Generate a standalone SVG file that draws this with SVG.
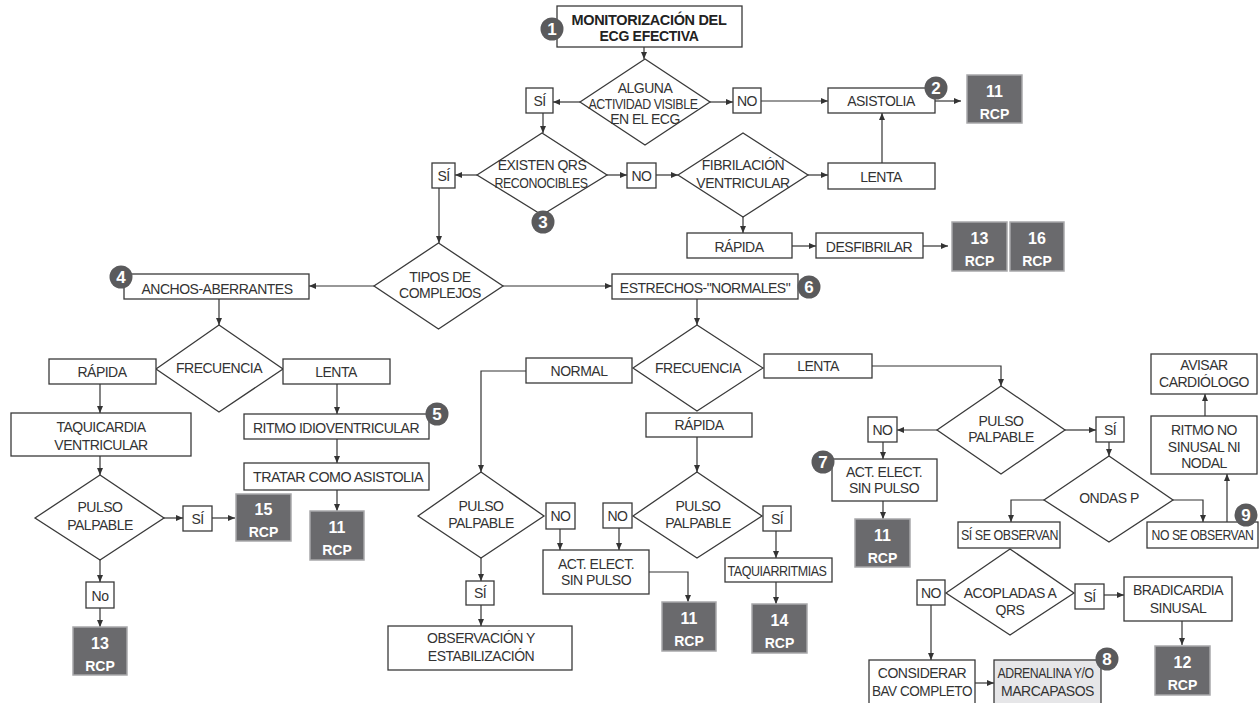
<svg xmlns="http://www.w3.org/2000/svg" width="1260" height="703" viewBox="0 0 1260 703">
<defs>
<marker id="ah" markerWidth="8" markerHeight="6" refX="7" refY="3" orient="auto" markerUnits="userSpaceOnUse"><path d="M0,0 L7,3 L0,6 z" fill="#333"/></marker>
<style>
.b{fill:#fff;stroke:#3a3a3a;stroke-width:1.3}
.g{fill:#e6e6e8;stroke:#3a3a3a;stroke-width:1.3}
.r{fill:#6a6a6d;stroke:#a8a8aa;stroke-width:1.5}
.t{font-family:"Liberation Sans",Arial,sans-serif;font-size:14px;fill:#333;text-anchor:middle;letter-spacing:-0.5px}
.tb{font-family:"Liberation Sans",Arial,sans-serif;font-size:14px;font-weight:bold;fill:#222;text-anchor:middle;letter-spacing:-0.3px}
.rn{font-family:"Liberation Sans",Arial,sans-serif;font-size:16px;font-weight:bold;fill:#fff;text-anchor:middle}
.rc{font-family:"Liberation Sans",Arial,sans-serif;font-size:14px;font-weight:bold;fill:#fff;text-anchor:middle}
.c{fill:#5a5a5c}
.cn{font-family:"Liberation Sans",Arial,sans-serif;font-size:17px;font-weight:bold;fill:#fff;text-anchor:middle}
.k{fill:none;stroke:#333;stroke-width:1.2;marker-end:url(#ah)}
</style>
</defs>
<rect width="1260" height="703" fill="#fff"/>
<g id="connectors">
<path class="k" d="M644,47 V59"/>
<path class="k" d="M580,102 H553"/>
<path class="k" d="M710,102 H733"/>
<path class="k" d="M761,101 H828"/>
<path class="k" d="M543,113 V133"/>
<path class="k" d="M477,175 H455"/>
<path class="k" d="M607,175 H627"/>
<path class="k" d="M656,175 H678"/>
<path class="k" d="M808,175 H828"/>
<path class="k" d="M882,163 V113"/>
<path class="k" d="M935,101 H961"/>
<path class="k" d="M743,217 V233"/>
<path class="k" d="M792,246 H816"/>
<path class="k" d="M923,246 H948"/>
<path class="k" d="M439,188 V243"/>
<path class="k" d="M374,286 H309"/>
<path class="k" d="M503,286 H612"/>
<path class="k" d="M219,299 V325"/>
<path class="k" d="M100,384 V413"/>
<path class="k" d="M337,384 V414"/>
<path class="k" d="M337,439 V463"/>
<path class="k" d="M337,490 V511"/>
<path class="k" d="M100,456 V475"/>
<path class="k" d="M164,518 H183"/>
<path class="k" d="M212,518 H235"/>
<path class="k" d="M100,560 V582"/>
<path class="k" d="M100,608 V627"/>
<path class="k" d="M697,299 V325"/>
<path class="k" d="M526,371 H481 V472"/>
<path class="k" d="M872,366 H1001 V386"/>
<path class="k" d="M697,437 V472"/>
<path class="k" d="M560,529 V550"/>
<path class="k" d="M619,528 V550"/>
<path class="k" d="M481,558 V581"/>
<path class="k" d="M481,605 V626"/>
<path class="k" d="M649,572 H688 V602"/>
<path class="k" d="M776,531 V558"/>
<path class="k" d="M776,582 V604"/>
<path class="k" d="M937,430 H897"/>
<path class="k" d="M883,442 V459"/>
<path class="k" d="M883,501 V519"/>
<path class="k" d="M1065,430 H1096"/>
<path class="k" d="M1109,442 V456"/>
<path class="k" d="M1044,500 H1011 V522"/>
<path class="k" d="M1173,500 H1203 V522"/>
<path class="k" d="M1227,522 V474"/>
<path class="k" d="M1205,416 V394"/>
<path class="k" d="M1104,595 H1124"/>
<path class="k" d="M1182,621 V645"/>
<path class="k" d="M931,605 V660"/>
<path class="k" d="M975,683 H994"/>
</g>
<g id="n-monit"><rect class="b" x="557" y="6" width="185" height="41"/><text class="tb" x="649" y="25" textLength="155" lengthAdjust="spacingAndGlyphs">MONITORIZACIÓN DEL</text><text class="tb" x="649" y="41" textLength="99" lengthAdjust="spacingAndGlyphs">ECG EFECTIVA</text></g>
<g id="c1"><circle class="c" cx="552" cy="29" r="11.5"/><text class="cn" x="552" y="35">1</text></g>
<g id="d-alguna"><polygon class="b" points="580,102 645,59 710,102 645,145"/><text class="t" x="645" y="93">ALGUNA</text><text class="t" x="643" y="109" textLength="109" lengthAdjust="spacingAndGlyphs">ACTIVIDAD VISIBLE</text><text class="t" x="645" y="124">EN EL ECG</text></g>
<g id="n-si1"><rect class="b" x="526" y="88" width="27" height="25"/><text class="t" x="539.5" y="106">SÍ</text></g>
<g id="n-no1"><rect class="b" x="733" y="88" width="28" height="25"/><text class="t" x="747" y="106">NO</text></g>
<g id="n-asist"><rect class="b" x="828" y="88" width="107" height="25"/><text class="t" x="881" y="106">ASISTOLIA</text></g>
<g id="c2"><circle class="c" cx="936" cy="88" r="11.5"/><text class="cn" x="936" y="94">2</text></g>
<g id="r11a"><rect class="r" x="967" y="75" width="55" height="48"/><text class="rn" x="994.5" y="97">11</text><text class="rc" x="994.5" y="119">RCP</text></g>
<g id="d-qrs"><polygon class="b" points="477,175 542,133 607,175 542,215"/><text class="t" x="542" y="170">EXISTEN QRS</text><text class="t" x="541" y="188" textLength="93" lengthAdjust="spacingAndGlyphs">RECONOCIBLES</text></g>
<g id="c3"><circle class="c" cx="543" cy="222" r="11.5"/><text class="cn" x="543" y="228">3</text></g>
<g id="n-si2"><rect class="b" x="432" y="163" width="23" height="25"/><text class="t" x="443.5" y="181">SÍ</text></g>
<g id="n-no2"><rect class="b" x="627" y="163" width="29" height="25"/><text class="t" x="641.5" y="181">NO</text></g>
<g id="d-fib"><polygon class="b" points="678,175 743,133 808,175 743,217"/><text class="t" x="743" y="170">FIBRILACIÓN</text><text class="t" x="743" y="188">VENTRICULAR</text></g>
<g id="n-lenta1"><rect class="b" x="828" y="163" width="107" height="26"/><text class="t" x="881" y="182">LENTA</text></g>
<g id="n-rapida1"><rect class="b" x="687" y="233" width="105" height="25"/><text class="t" x="739" y="252">RÁPIDA</text></g>
<g id="n-desf"><rect class="b" x="816" y="233" width="107" height="25"/><text class="t" x="869" y="252">DESFIBRILAR</text></g>
<g id="r13a"><rect class="r" x="952" y="222" width="55" height="49"/><text class="rn" x="979.5" y="244">13</text><text class="rc" x="979.5" y="266">RCP</text></g>
<g id="r16"><rect class="r" x="1010" y="222" width="54" height="49"/><text class="rn" x="1037" y="244">16</text><text class="rc" x="1037" y="266">RCP</text></g>
<g id="d-tipos"><polygon class="b" points="374,286 438.5,243 503,286 438.5,329"/><text class="t" x="440" y="282">TIPOS DE</text><text class="t" x="440" y="298">COMPLEJOS</text></g>
<g id="n-anchos"><rect class="b" x="124" y="274" width="185" height="25"/><text class="t" x="217" y="294">ANCHOS-ABERRANTES</text></g>
<g id="c4"><circle class="c" cx="121" cy="277" r="11.5"/><text class="cn" x="121" y="283">4</text></g>
<g id="n-estr"><rect class="b" x="612" y="274" width="186" height="25"/><text class="t" x="705" y="293">ESTRECHOS-"NORMALES"</text></g>
<g id="c6"><circle class="c" cx="809" cy="287" r="11.5"/><text class="cn" x="809" y="293">6</text></g>
<g id="d-frec1"><polygon class="b" points="156,369 219,325 283,369 219,412"/><text class="t" x="219" y="373">FRECUENCIA</text></g>
<g id="n-rapida2"><rect class="b" x="49" y="359" width="107" height="25"/><text class="t" x="102" y="377">RÁPIDA</text></g>
<g id="n-lenta2"><rect class="b" x="283" y="359" width="107" height="25"/><text class="t" x="336" y="377">LENTA</text></g>
<g id="n-taqv"><rect class="b" x="11" y="413" width="180" height="43"/><text class="t" x="101" y="432">TAQUICARDIA</text><text class="t" x="101" y="450">VENTRICULAR</text></g>
<g id="n-ritidio"><rect class="b" x="244" y="414" width="185" height="25"/><text class="t" x="336" y="433">RITMO IDIOVENTRICULAR</text></g>
<g id="c5"><circle class="c" cx="437" cy="414" r="11.5"/><text class="cn" x="437" y="420">5</text></g>
<g id="n-tratar"><rect class="b" x="244" y="463" width="185" height="27"/><text class="t" x="338" y="482" textLength="170" lengthAdjust="spacingAndGlyphs">TRATAR COMO ASISTOLIA</text></g>
<g id="r11b"><rect class="r" x="310" y="511" width="54" height="49"/><text class="rn" x="337" y="533">11</text><text class="rc" x="337" y="555">RCP</text></g>
<g id="d-pulso1"><polygon class="b" points="35,518 100,475 164,518 100,560"/><text class="t" x="100" y="512">PULSO</text><text class="t" x="100" y="530">PALPABLE</text></g>
<g id="n-si3"><rect class="b" x="183" y="506" width="29" height="25"/><text class="t" x="197.5" y="524">SÍ</text></g>
<g id="r15"><rect class="r" x="236" y="494" width="55" height="47"/><text class="rn" x="263.5" y="515">15</text><text class="rc" x="263.5" y="537">RCP</text></g>
<g id="n-no3"><rect class="b" x="86" y="582" width="28" height="26"/><text class="t" x="100" y="601">No</text></g>
<g id="r13b"><rect class="r" x="73" y="627" width="54" height="48"/><text class="rn" x="100" y="649">13</text><text class="rc" x="100" y="671">RCP</text></g>
<g id="d-frec2"><polygon class="b" points="633,368 697,325 763,368 697,411"/><text class="t" x="698" y="373">FRECUENCIA</text></g>
<g id="n-normal"><rect class="b" x="526" y="358" width="106" height="25"/><text class="t" x="579" y="376">NORMAL</text></g>
<g id="n-lenta3"><rect class="b" x="764" y="354" width="108" height="24"/><text class="t" x="818" y="371">LENTA</text></g>
<g id="n-rapida3"><rect class="b" x="646" y="413" width="106" height="24"/><text class="t" x="699" y="430">RÁPIDA</text></g>
<g id="d-pulso2"><polygon class="b" points="418,516 481,472 544,516 481,558"/><text class="t" x="481" y="511">PULSO</text><text class="t" x="481" y="528">PALPABLE</text></g>
<g id="n-no4"><rect class="b" x="546" y="503" width="29" height="26"/><text class="t" x="560.5" y="521">NO</text></g>
<g id="n-si4"><rect class="b" x="466" y="581" width="28" height="24"/><text class="t" x="480" y="598">SÍ</text></g>
<g id="n-obs"><rect class="b" x="388" y="626" width="184" height="44"/><text class="t" x="481" y="643">OBSERVACIÓN Y</text><text class="t" x="481" y="661">ESTABILIZACIÓN</text></g>
<g id="d-pulso3"><polygon class="b" points="633,516 697,472 762,516 697,558"/><text class="t" x="698" y="511">PULSO</text><text class="t" x="698" y="528">PALPABLE</text></g>
<g id="n-no5"><rect class="b" x="603" y="503" width="29" height="25"/><text class="t" x="617.5" y="521">NO</text></g>
<g id="n-act1"><rect class="b" x="543" y="550" width="106" height="44"/><text class="t" x="596" y="569">ACT. ELECT.</text><text class="t" x="596" y="585">SIN PULSO</text></g>
<g id="r11c"><rect class="r" x="662" y="602" width="54" height="49"/><text class="rn" x="689" y="624">11</text><text class="rc" x="689" y="646">RCP</text></g>
<g id="n-si5"><rect class="b" x="763" y="506" width="28" height="25"/><text class="t" x="777" y="524">SÍ</text></g>
<g id="n-taqa"><rect class="b" x="725" y="558" width="107" height="24"/><text class="t" x="777" y="576" textLength="99" lengthAdjust="spacingAndGlyphs">TAQUIARRITMIAS</text></g>
<g id="r14"><rect class="r" x="752" y="604" width="55" height="49"/><text class="rn" x="779.5" y="626">14</text><text class="rc" x="779.5" y="648">RCP</text></g>
<g id="d-pulso4"><polygon class="b" points="937,430 1001,386 1065,430 1001,474"/><text class="t" x="1001" y="426">PULSO</text><text class="t" x="1001" y="442">PALPABLE</text></g>
<g id="n-no6"><rect class="b" x="868" y="417" width="29" height="25"/><text class="t" x="882.5" y="435">NO</text></g>
<g id="n-act2"><rect class="b" x="832" y="459" width="105" height="42"/><text class="t" x="884" y="477">ACT. ELECT.</text><text class="t" x="884" y="493">SIN PULSO</text></g>
<g id="c7"><circle class="c" cx="823" cy="462" r="11.5"/><text class="cn" x="823" y="468">7</text></g>
<g id="r11d"><rect class="r" x="855" y="519" width="55" height="48"/><text class="rn" x="882.5" y="541">11</text><text class="rc" x="882.5" y="563">RCP</text></g>
<g id="n-si6"><rect class="b" x="1096" y="417" width="28" height="25"/><text class="t" x="1110" y="435">SÍ</text></g>
<g id="d-ondas"><polygon class="b" points="1044,500 1109,456 1173,500 1109,542"/><text class="t" x="1109" y="503">ONDAS P</text></g>
<g id="n-siobs"><rect class="b" x="958" y="522" width="102" height="26"/><text class="t" x="1009.5" y="540" textLength="97" lengthAdjust="spacingAndGlyphs">SÍ SE OBSERVAN</text></g>
<g id="n-noobs"><rect class="b" x="1147" y="522" width="111" height="26"/><text class="t" x="1202.5" y="540" textLength="102" lengthAdjust="spacingAndGlyphs">NO SE OBSERVAN</text></g>
<g id="c9"><circle class="c" cx="1246" cy="515" r="11.5"/><text class="cn" x="1246" y="521">9</text></g>
<g id="n-ritmono"><rect class="b" x="1151" y="416" width="106" height="58"/><text class="t" x="1204" y="435">RITMO NO</text><text class="t" x="1204" y="452">SINUSAL NI</text><text class="t" x="1204" y="468">NODAL</text></g>
<g id="n-avisar"><rect class="b" x="1151" y="354" width="106" height="40"/><text class="t" x="1204" y="370">AVISAR</text><text class="t" x="1204" y="387">CARDIÓLOGO</text></g>
<g id="d-acop"><polygon class="b" points="946,593 1010,549 1074,593 1010,635"/><text class="t" x="1010" y="598">ACOPLADAS A</text><text class="t" x="1010" y="615">QRS</text></g>
<g id="n-no7"><rect class="b" x="917" y="580" width="28" height="25"/><text class="t" x="931" y="598">NO</text></g>
<g id="n-si7"><rect class="b" x="1075" y="584" width="29" height="25"/><text class="t" x="1089.5" y="602">SÍ</text></g>
<g id="n-brad"><rect class="b" x="1124" y="577" width="108" height="44"/><text class="t" x="1178" y="595">BRADICARDIA</text><text class="t" x="1178" y="613">SINUSAL</text></g>
<g id="r12"><rect class="r" x="1155" y="646" width="55" height="49"/><text class="rn" x="1182.5" y="668">12</text><text class="rc" x="1182.5" y="690">RCP</text></g>
<g id="n-consid"><rect class="b" x="869" y="660" width="106" height="46"/><text class="t" x="922" y="678">CONSIDERAR</text><text class="t" x="922" y="696" textLength="100" lengthAdjust="spacingAndGlyphs">BAV COMPLETO</text></g>
<g id="n-adren"><rect class="g" x="994" y="660" width="107" height="46"/><text class="t" x="1045.5" y="678" textLength="96" lengthAdjust="spacingAndGlyphs">ADRENALINA Y/O</text><text class="t" x="1047.5" y="696">MARCAPASOS</text></g>
<g id="c8"><circle class="c" cx="1107" cy="659" r="11.5"/><text class="cn" x="1107" y="665">8</text></g>
</svg>
